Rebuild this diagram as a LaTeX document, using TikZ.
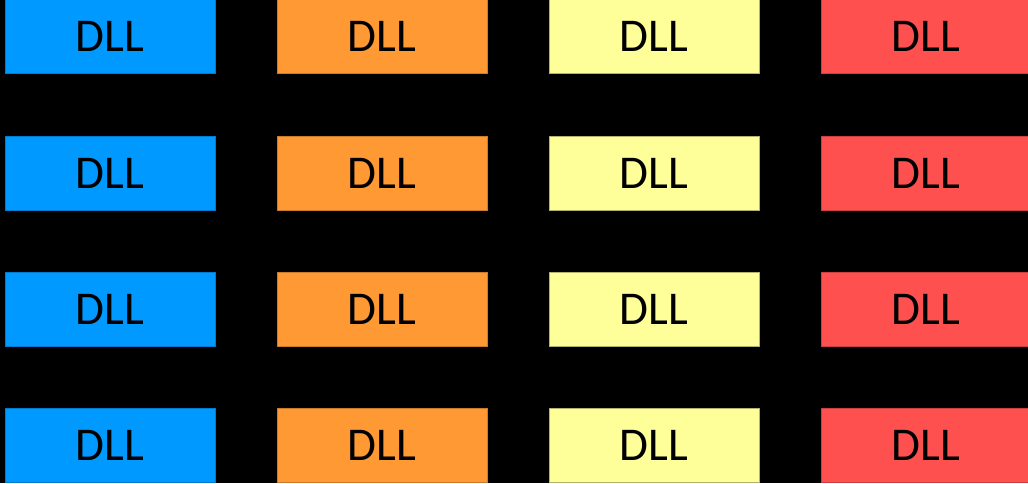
\documentclass[tikz,border=0pt]{standalone}
\usepackage{fontspec}
\setmainfont{Carlito}
\usepackage{tikz}
\usetikzlibrary{positioning}
\definecolor{dllblue}{HTML}{0099FF}
\definecolor{dllorange}{HTML}{FF9933}
\definecolor{dllyellow}{HTML}{FFFF99}
\definecolor{dllred}{HTML}{FF5050}
\tikzstyle{dll}=[shape=rectangle,minimum width=210pt,minimum height=74pt,inner sep=0pt,font=\fontsize{47}{47}\selectfont,text=black]
\tikzstyle{dll_blue}=[dll,fill=dllblue,draw=dllblue!80!black,line width=0.6pt]
\tikzstyle{dll_orange}=[dll,fill=dllorange,draw=dllorange!80!black,line width=0.6pt]
\tikzstyle{dll_yellow}=[dll,fill=dllyellow,draw=dllyellow!70!black,line width=0.6pt]
\tikzstyle{dll_red}=[dll,fill=dllred,draw=dllred!80!black,line width=0.6pt]

\begin{document}
\begin{tikzpicture}[x=1pt,y=-1pt]
\useasboundingbox (0,0) rectangle (1028,483);
\fill[black] (0,0) rectangle (1028,483);
\clip (0,0) rectangle (1028,483);

% 1st column
\node[dll_blue] (b1) at (110,36.5) {DLL};
\node[dll_blue] (b2) at (110,173) {DLL};
\node[dll_blue] (b3) at (110,309) {DLL};
\node[dll_blue] (b4) at (110,445) {DLL};

% 2nd column
\node[dll_orange] (o1) at (382,36.5) {DLL};
\node[dll_orange] (o2) at (382,173) {DLL};
\node[dll_orange] (o3) at (382,309) {DLL};
\node[dll_orange] (o4) at (382,445) {DLL};

% 3rd column
\node[dll_yellow] (y1) at (654,36.5) {DLL};
\node[dll_yellow] (y2) at (654,173) {DLL};
\node[dll_yellow] (y3) at (654,309) {DLL};
\node[dll_yellow] (y4) at (654,445) {DLL};

% 4th column
\node[dll_red] (r1) at (926,36.5) {DLL};
\node[dll_red] (r2) at (926,173) {DLL};
\node[dll_red] (r3) at (926,309) {DLL};
\node[dll_red] (r4) at (926,445) {DLL};

\end{tikzpicture}
\end{document}
